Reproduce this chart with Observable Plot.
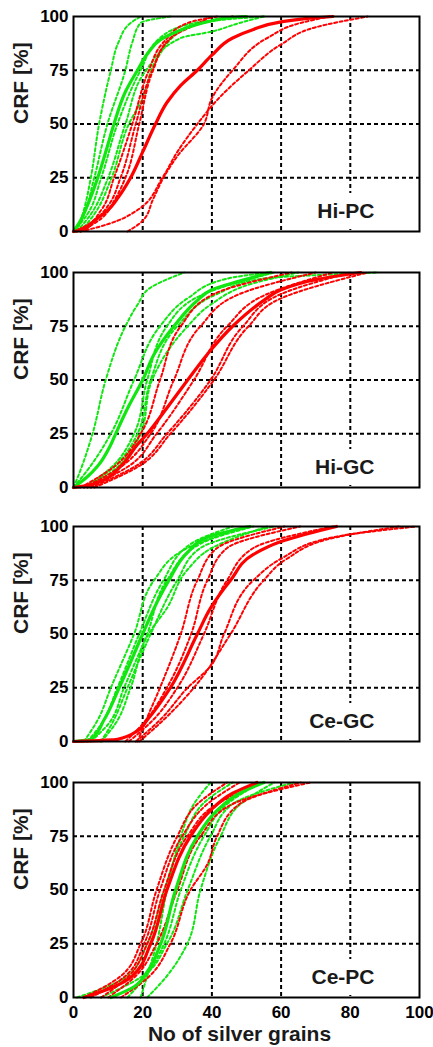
<!DOCTYPE html>
<html><head><meta charset="utf-8">
<script src="https://cdn.jsdelivr.net/npm/d3@7"></script>
<script src="https://cdn.jsdelivr.net/npm/@observablehq/plot@0.6"></script>
<style>html,body{margin:0;padding:0;background:#fff}#chart svg{display:block}</style>
</head><body><div id="chart"></div><script>
// ---- data: [silver grains, CRF %] ----
const panelNames = ["Hi-PC", "Hi-GC", "Ce-GC", "Ce-PC"];
const xTicks = [0, 20, 40, 60, 80, 100];
const yTicks = [0, 25, 50, 75, 100];

const hiPC_green_mean = [[0,0],[2,5],[4,12],[7,25],[9.5,38],[11.7,50],[15,65],[18.5,75],[22,84],[25,89],[30,93],[35,96],[40,98],[45,99.5],[50,100]];
const hiPC_red_mean = [[0,0],[3,1],[6,5],[10,10],[13,16],[16.5,25],[20,37],[23.7,50],[27,60],[31,68],[35.8,75],[40,82],[46,90],[52,94],[60,97.5],[67,99],[75,100]];
const hiPC_green_cells = [
  [[1,0],[3,10],[5,25],[7.4,50],[10.8,75],[13,88],[16.5,97],[19.5,100]],
  [[0.5,0],[3,8],[6,25],[9.8,50],[15,75],[17,88],[19.4,97],[28,100]],
  [[0,0],[4,8],[8,25],[12.7,50],[19.4,75],[25,90],[35,97],[55,100]],
  [[1,0],[5,8],[10,25],[15,50],[21,75],[31,90],[40,93],[48,97],[55,100]],
  [[2,0],[6,8],[11,25],[16,50],[20,62],[24,80],[33,95],[40,98],[46,100]]
];
const hiPC_red_cells = [
  [[0,0],[4,3],[8,10],[11.7,25],[17,50],[21.8,75],[26,88],[33,97],[41.5,100]],
  [[1,0],[6,5],[10,12],[13.6,25],[18,50],[22.8,75],[28,90],[35,96],[40,100]],
  [[2,0],[8,6],[12,15],[15,25],[19,50],[23,75],[27,88],[33,95],[46,100]],
  [[2,0],[7,2],[12.7,5],[18.5,10],[25.7,25],[30,37],[35.8,50],[42,62],[50.7,75],[60,87],[70,95],[85,100]],
  [[15.6,0],[20,5],[23,15],[26,25],[30,35],[37.7,50],[40,62],[46,75],[56,90],[65.6,97],[74,100]]
];

const hiGC_green_mean = [[0,0],[4,5],[7,10],[10.8,20],[12.2,25],[16,38],[20,50],[23.3,62],[29,75],[35.8,87],[40,92],[48,96],[57,100]];
const hiGC_red_mean = [[0,0],[4,1],[8,3],[13.7,10],[18.5,20],[21.3,25],[27,37],[33,50],[38.7,62],[46,75],[55,87],[60,92],[71,97],[83,100]];
const hiGC_green_cells = [
  [[0,0],[2,8],[5.5,25],[9.3,50],[15,75],[18.5,85],[22.3,93],[32,100]],
  [[0,0],[4,8],[10.8,25],[17.5,50],[25,75],[33,88],[44,97],[56,100]],
  [[3,0],[10,8],[17.5,25],[21.3,50],[27,75],[37.7,90],[58,100]],
  [[4,0],[12,10],[18.5,25],[22.3,50],[30,75],[41.5,90],[54,97],[88,100]],
  [[5,0],[13,10],[19.4,25],[22.7,50],[33,75],[39.6,85],[52,95],[65,100]]
];
const hiGC_red_cells = [
  [[2,0],[12,10],[19.4,25],[25,50],[31,75],[40.6,90],[63,100]],
  [[3,0],[14,10],[22.3,25],[29,50],[36.7,75],[48,90],[70,100]],
  [[4,0],[16,10],[24,25],[34.8,50],[44.4,75],[56,90],[75,100]],
  [[5,0],[18,10],[27,25],[39.6,50],[49,75],[60,90],[80,100]],
  [[6,0],[19,10],[28,25],[40.6,50],[50.6,75],[60,88],[85,100]]
];

const ceGC_green_mean = [[0,0],[5,1],[8.8,10],[13.2,25],[20,50],[23.3,62],[27.6,75],[33,88],[38.7,95],[51,100]];
const ceGC_red_mean = [[0,0],[12.7,1],[18.5,5],[21.3,10],[28,25],[35.8,50],[39.6,62],[45.4,75],[52,87],[60,93],[71,98],[76,100]];
const ceGC_green_cells = [
  [[3,0],[7,10],[10.8,25],[17.5,50],[23.3,75],[33,90],[50,100]],
  [[4,0],[8,8],[12.7,25],[19,50],[26,75],[34,92],[46,100]],
  [[5,0],[10,8],[14.6,25],[21.3,50],[27,75],[36.7,92],[52,100]],
  [[7.9,0],[11,8],[15.6,25],[22.3,50],[30,75],[36.7,90],[58,100]],
  [[8,0],[12,8],[16.5,25],[21.7,50],[27,62],[33,80],[40,90],[56,100]]
];
const ceGC_red_cells = [
  [[18.5,0],[21,10],[25,25],[31,50],[35.8,75],[41.5,90],[61,100]],
  [[15,0],[21,10],[27,25],[34,50],[38.7,75],[44.4,90],[65.5,100]],
  [[16,0],[23,10],[30,25],[37.7,50],[44.4,75],[52,90],[75,100]],
  [[18,0],[25,10],[33,25],[39.6,35],[43.5,50],[52,75],[60,85],[75,95],[99,100]],
  [[19,0],[26,10],[34.8,25],[45.4,50],[55,75],[61.7,85],[76,95],[94,100]]
];

const cePC_green_mean = [[10.8,0],[17.5,5],[21.3,12],[25.2,25],[29.5,50],[35.8,75],[41.5,87],[48,95],[55,100]];
const cePC_red_mean = [[3,0],[11.7,5],[17,10],[22.3,25],[27,50],[33.8,75],[39.6,87],[46,95],[53,100]];
const cePC_green_cells = [
  [[19.4,0],[21.3,10],[24,25],[27,50],[31,75],[34.8,90],[39.6,100]],
  [[15.6,0],[21,10],[26.2,25],[31,50],[37.7,75],[44.4,90],[54,100]],
  [[21.3,0],[27,10],[32.9,25],[36.7,50],[42.5,75],[48.3,90],[58,100]],
  [[7.9,0],[20,10],[27,25],[33,50],[39.6,75],[46,90],[63.7,100]],
  [[1,0],[15.6,10],[21.3,25],[26.2,50],[32,75],[38.7,92],[46,100]]
];
const cePC_red_cells = [
  [[3,0],[13.7,10],[19.4,25],[24,50],[30,75],[35.8,90],[44.4,100]],
  [[5,0],[15,10],[20.4,25],[25,50],[31.4,75],[38.7,90],[48,100]],
  [[8,0],[16,10],[21.3,25],[26.2,50],[32.9,75],[41.5,90],[55,100]],
  [[10,0],[18,10],[24,25],[30,50],[36.7,75],[46,90],[68.5,100]],
  [[13.7,0],[22,10],[28,25],[33.8,50],[38.7,62],[41.5,75],[48,90],[65.7,100]]
];

// ---- build ----
const GREEN = "#10e610", RED = "#ff0000";
const FONT = "'Liberation Sans', Arial, Helvetica, sans-serif";
const panels = [
  {gm: hiPC_green_mean, rm: hiPC_red_mean, gc: hiPC_green_cells, rc: hiPC_red_cells},
  {gm: hiGC_green_mean, rm: hiGC_red_mean, gc: hiGC_green_cells, rc: hiGC_red_cells},
  {gm: ceGC_green_mean, rm: ceGC_red_mean, gc: ceGC_green_cells, rc: ceGC_red_cells},
  {gm: cePC_green_mean, rm: cePC_red_mean, gc: cePC_green_cells, rc: cePC_red_cells}
];
const heights = [255, 255, 256, 281];
const mTop = [16, 17, 16, 16];
const mBottom = [24, 23, 25, 50];

function toRows(curves, col) {
  const rows = [];
  curves.forEach((c, k) => c.forEach(([x, y]) => rows.push({id: col + k, col, x, y})));
  return rows;
}

const root = document.getElementById("chart");
panels.forEach((p, i) => {
  const last = i === panels.length - 1;
  const gCells = toRows(p.gc, "g"), rCells = toRows(p.rc, "r");
  const gMean = toRows([p.gm], "gm"), rMean = toRows([p.rm], "rm");
  const marks = [
    Plot.gridX(xTicks.slice(1, -1), {stroke: "black", strokeOpacity: 1, strokeWidth: 2, strokeDasharray: "4,3"}),
    Plot.gridY(yTicks.slice(1, -1), {stroke: "black", strokeOpacity: 1, strokeWidth: 2, strokeDasharray: "4,3"}),
    Plot.text([panelNames[i]], {frameAnchor: "bottom-right", dx: -45, dy: -14, lineAnchor: "bottom", textAnchor: "end",
      fontSize: 21, fontWeight: "bold", fill: "#1a1a1a", stroke: "white", strokeWidth: 22}),
    Plot.line(gCells, {x: "x", y: "y", z: "id", stroke: GREEN, strokeWidth: 2, strokeDasharray: "3,2.5", curve: "monotone-y"}),
    Plot.line(rCells, {x: "x", y: "y", z: "id", stroke: RED, strokeWidth: 2, strokeDasharray: "3,2.5", curve: "monotone-y"}),
    Plot.line(gMean, {x: "x", y: "y", z: "id", stroke: GREEN, strokeWidth: 3.2, curve: "monotone-y"}),
    Plot.line(rMean, {x: "x", y: "y", z: "id", stroke: RED, strokeWidth: 3.2, curve: "monotone-y"}),
    Plot.frame({stroke: "black", strokeWidth: 2}),
    Plot.axisY(yTicks, {tickSize: 0, tickPadding: 5, fontSize: 17, fontWeight: "bold", fill: "black", label: null}),
    Plot.text(["CRF [%]"], {frameAnchor: "left", rotate: -90, dx: -52, fontSize: 21, fontWeight: "bold", fill: "#1a1a1a"})
  ];
  if (last) {
    marks.push(Plot.axisX(xTicks, {tickSize: 0, tickPadding: 8, fontSize: 17, fontWeight: "bold", fill: "black", label: null}));
    marks.push(Plot.text(["No of silver grains"], {frameAnchor: "bottom", dx: -7, dy: 43, lineAnchor: "bottom", fontSize: 21, fontWeight: "bold", fill: "#1a1a1a"}));
  } else {
    marks.push(Plot.axisX({ticks: [], label: null}));
  }
  const svg = Plot.plot({
    width: 433, height: heights[i],
    marginLeft: 73, marginRight: 14, marginTop: mTop[i], marginBottom: mBottom[i],
    x: {domain: [0, 100]}, y: {domain: [0, 100]},
    style: {fontFamily: FONT, background: "white", color: "black", overflow: "visible"},
    marks
  });
  root.appendChild(svg);
});
</script></body></html>
